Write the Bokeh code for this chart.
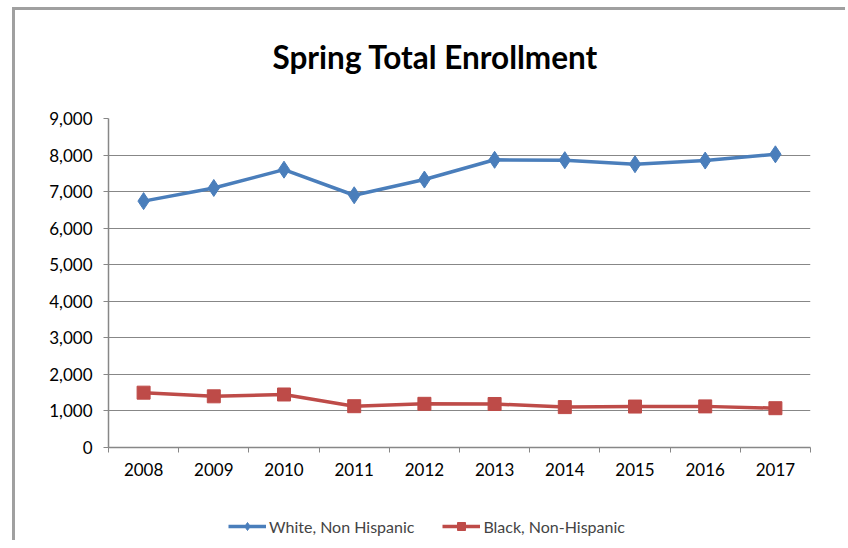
from bokeh.plotting import figure
from bokeh.layouts import column
from bokeh.models import FixedTicker, NumeralTickFormatter, Legend, LegendItem, Range1d, Title
from bokeh.embed import file_html
from bokeh.resources import INLINE

years = ["2008", "2009", "2010", "2011", "2012", "2013", "2014", "2015", "2016", "2017"]
white = [6740, 7100, 7600, 6900, 7330, 7870, 7860, 7750, 7850, 8020]
black = [1500, 1400, 1450, 1130, 1195, 1190, 1105, 1120, 1125, 1075]
yticks = [0, 1000, 2000, 3000, 4000, 5000, 6000, 7000, 8000, 9000]
series_names = ["White, Non Hispanic", "Black, Non-Hispanic"]

FONT = "Lato"
idx = list(range(len(years)))
blue = "#4a7ebb"
red = "#be4b48"

p = figure(width=830, height=475, output_backend="svg", toolbar_location=None,
           x_range=Range1d(-0.5, len(years) - 0.5), y_range=Range1d(0, 9000),
           min_border_left=93, min_border_right=35, min_border_top=108, min_border_bottom=38)
p.outline_line_color = None

# spacer between title and plot area
p.add_layout(Title(text=" ", text_font_size="1px", standoff=30), "above")

p.title.text = "Spring Total Enrollment"
p.title.text_font = FONT
p.title.text_font_size = "31.5px"
p.title.text_font_style = "bold"
p.title.text_color = "#000000"
p.title.align = "left"
p.title.offset = 164
p.title.standoff = 20

# axes
p.xaxis.ticker = FixedTicker(ticks=idx, minor_ticks=[i - 0.5 for i in range(len(years) + 1)])
p.xaxis.major_label_overrides = {i: y for i, y in enumerate(years)}
p.xaxis.major_tick_line_color = None
p.xaxis.minor_tick_out = 5
p.xaxis.minor_tick_in = 0
p.xaxis.minor_tick_line_color = "#878787"
p.xaxis.axis_line_color = "#878787"
p.xaxis.axis_line_width = 1.5
p.xaxis.major_label_text_font = FONT
p.xaxis.major_label_text_font_size = "17px"
p.xaxis.major_label_text_color = "#000000"
p.xaxis.major_label_standoff = 9

p.yaxis.ticker = FixedTicker(ticks=yticks)
p.yaxis.formatter = NumeralTickFormatter(format="0,0")
p.yaxis.minor_tick_line_color = None
p.yaxis.major_tick_out = 5
p.yaxis.major_tick_in = 0
p.yaxis.major_tick_line_color = "#878787"
p.yaxis.axis_line_color = "#878787"
p.yaxis.axis_line_width = 1.5
p.yaxis.major_label_text_font = FONT
p.yaxis.major_label_text_font_size = "17px"
p.yaxis.major_label_text_color = "#000000"
p.yaxis.major_label_standoff = 11

p.xgrid.grid_line_color = None
p.ygrid.ticker = FixedTicker(ticks=yticks)
p.ygrid.grid_line_color = "#878787"
p.ygrid.grid_line_width = 1

p.line(idx, white, line_color=blue, line_width=3.5)
p.scatter(idx, white, marker="diamond", size=17, fill_color=blue, line_color=blue)
p.line(idx, black, line_color=red, line_width=3.5)
p.scatter(idx, black, marker="square", size=13, fill_color=red, line_color=red)

# legend strip (its series lie outside its visible range, only the legend shows)
q = figure(width=830, height=55, output_backend="svg", toolbar_location=None,
           x_range=Range1d(-0.5, len(years) - 0.5), y_range=Range1d(0, 1),
           x_axis_location=None, y_axis_location=None,
           min_border_left=0, min_border_right=0, min_border_top=0, min_border_bottom=0)
q.outline_line_color = None
q.xgrid.grid_line_color = None
q.ygrid.grid_line_color = None
lw1 = q.line(idx, white, line_color=blue, line_width=3.5)
mw1 = q.scatter(idx, white, marker="diamond", size=13, fill_color=blue, line_color=blue)
lw2 = q.line(idx, black, line_color=red, line_width=3.5)
mw2 = q.scatter(idx, black, marker="square", size=12, fill_color=red, line_color=red)
legend = Legend(items=[LegendItem(label=series_names[0], renderers=[lw1, mw1]),
                       LegendItem(label=series_names[1], renderers=[lw2, mw2])],
                orientation="horizontal", location=(120, 4),
                border_line_color=None, background_fill_alpha=0,
                label_text_font=FONT, label_text_font_size="16px",
                glyph_width=38, glyph_height=20, label_height=20,
                label_standoff=3, spacing=28, padding=0, margin=0)
q.add_layout(legend, "center")

layout = column(p, q, spacing=0)
layout.margin = (7, 0, 0, 12)
layout.styles = {"border-left": "3px solid #a0a0a0", "border-top": "3px solid #a0a0a0"}

open("out.html", "w").write(file_html(layout, INLINE))
